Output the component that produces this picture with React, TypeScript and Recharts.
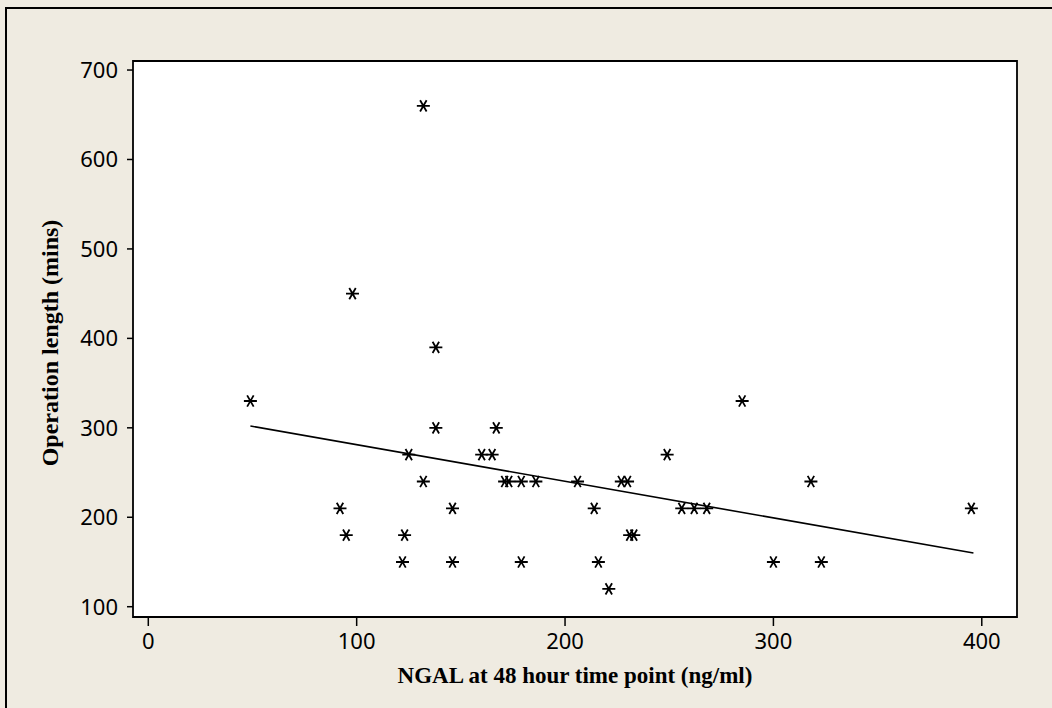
import React from 'react';
import { ScatterChart, Scatter, XAxis, YAxis, ReferenceArea, ReferenceLine, CartesianGrid } from 'recharts';

const ngal = [49, 98, 132, 138, 138, 167, 125, 160, 165, 132, 171, 173, 179, 186, 206, 227, 230, 249, 285, 318, 92, 146, 214, 256, 262, 268, 395, 95, 123, 231, 233, 122, 146, 179, 216, 300, 323, 221];
const opLength = [330, 450, 660, 390, 300, 300, 270, 270, 270, 240, 240, 240, 240, 240, 240, 240, 240, 270, 330, 240, 210, 210, 210, 210, 210, 210, 210, 180, 180, 180, 180, 150, 150, 150, 150, 150, 150, 120];

const fitX = [49, 396];
const fitY = [302, 160];

const xTicks = [0, 100, 200, 300, 400];
const yTicks = [100, 200, 300, 400, 500, 600, 700];
const xDomain = [-7.34, 416.9];
const yDomain = [88.5, 710.1];

const xTitle = 'NGAL at 48 hour time point (ng/ml)';
const yTitle = 'Operation length (mins)';

const points = ngal.map((x, i) => ({ x, y: opLength[i] }));

const Asterisk = (props: any) => {
  const { cx, cy } = props;
  if (cx == null || cy == null) return null;
  const r = 6.5;
  const dx = r * Math.cos(Math.PI / 3);
  const dy = r * Math.sin(Math.PI / 3);
  const d = `M${cx - r},${cy}L${cx + r},${cy}M${cx - dx},${cy - dy}L${cx + dx},${cy + dy}M${cx + dx},${cy - dy}L${cx - dx},${cy + dy}`;
  return <path d={d} stroke="#000" strokeWidth={1.8} fill="none" />;
};

const tickFont = { fill: '#000', fontSize: 22, fontFamily: "'Noto Sans', 'DejaVu Sans', sans-serif" };
const titleFont = "'Liberation Serif', 'Times New Roman', serif";

export default function App() {
  return (
    <div style={{ position: 'absolute', left: 0, top: 0, width: 1052, height: 708, background: '#EFEBE1', overflow: 'hidden' }}>
      <div style={{ position: 'absolute', left: 5, top: 7, width: 2000, height: 2000, border: '2px solid #000' }} />
      <div style={{ position: 'absolute', left: 0, top: 0 }}>
        <ScatterChart width={1052} height={708} margin={{ top: 61, right: 35, bottom: 31, left: 53 }}>
          <CartesianGrid horizontal={false} vertical={false} fill="#fff" />
          <XAxis
            type="number"
            dataKey="x"
            domain={xDomain}
            ticks={xTicks}
            allowDataOverflow
            height={60}
            axisLine={false}
            tickSize={9}
            tickMargin={7}
            tickLine={{ stroke: '#000', strokeWidth: 1.5 }}
            tick={tickFont}
            label={{
              content: (p: any) => {
                const vb = p.viewBox;
                return (
                  <text x={vb.x + vb.width / 2} y={675} textAnchor="middle" dominantBaseline="central" fontFamily={titleFont} fontWeight="bold" fontSize={23} fill="#000">
                    {xTitle}
                  </text>
                );
              },
            }}
          />
          <YAxis
            type="number"
            dataKey="y"
            domain={yDomain}
            ticks={yTicks}
            allowDataOverflow
            width={80}
            axisLine={false}
            tickSize={6}
            tickMargin={9}
            tickLine={{ stroke: '#000', strokeWidth: 1.5 }}
            tick={tickFont}
            label={{
              content: (p: any) => {
                const vb = p.viewBox;
                const cy = vb.y + vb.height / 2 + 4;
                return (
                  <text x={58} y={cy} transform={`rotate(-90, 58, ${cy})`} textAnchor="middle" fontFamily={titleFont} fontWeight="bold" fontSize={24} fill="#000">
                    {yTitle}
                  </text>
                );
              },
            }}
          />
          <ReferenceArea x1={xDomain[0]} x2={xDomain[1]} y1={yDomain[0]} y2={yDomain[1]} fill="none" fillOpacity={0} stroke="#000" strokeWidth={1.8} strokeOpacity={1} />
          <ReferenceLine segment={[{ x: fitX[0], y: fitY[0] }, { x: fitX[1], y: fitY[1] }]} stroke="#000" strokeWidth={1.6} />
          <Scatter data={points} shape={<Asterisk />} isAnimationActive={false} />
        </ScatterChart>
      </div>
    </div>
  );
}
